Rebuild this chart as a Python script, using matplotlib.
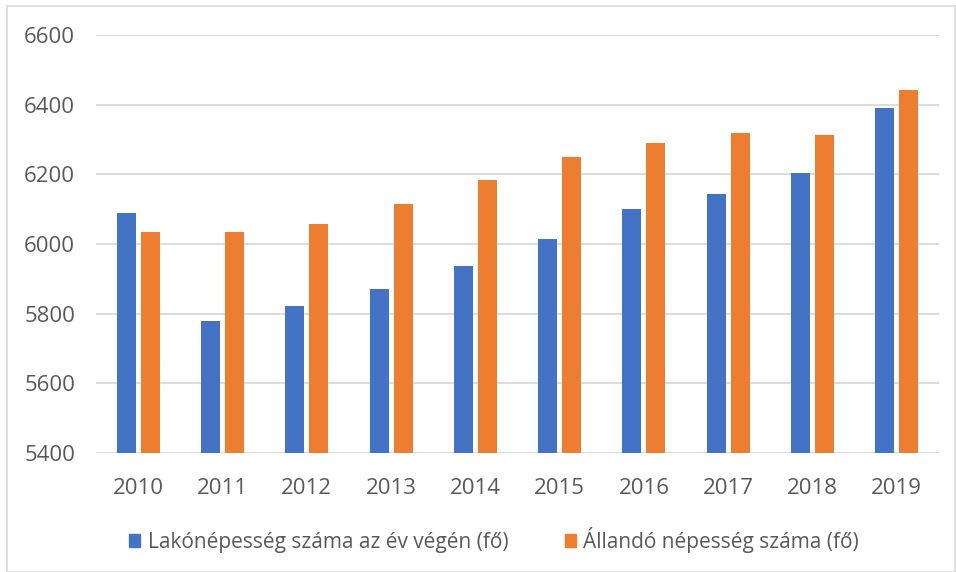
import matplotlib
matplotlib.use("Agg")
import matplotlib.pyplot as plt
import numpy as np
from matplotlib.patches import Rectangle, Patch

years = ["2010", "2011", "2012", "2013", "2014", "2015", "2016", "2017", "2018", "2019"]
lakonepesseg = [6089, 5778, 5821, 5871, 5937, 6015, 6100, 6144, 6204, 6390]
allando = [6034, 6034, 6057, 6116, 6183, 6249, 6291, 6318, 6312, 6443]
series_names = ["Lakónépesség száma az év végén (fő)", "Állandó népesség száma (fő)"]

BLUE = "#4472C4"
ORANGE = "#ED7D31"
TEXT = "#595959"
GRID = "#D9D9D9"

plt.rcParams['font.family'] = ['Open Sans', 'DejaVu Sans']

fig = plt.figure(figsize=(9.56, 5.72), dpi=100)
ax = fig.add_axes([96/956, 1-453/572, (939-96)/956, (453-35)/572])

x = np.arange(len(years))
w = 0.225
off = 0.142
ax.bar(x - off, [v - 5400 for v in lakonepesseg], w, bottom=5400, color=BLUE, zorder=3)
ax.bar(x + off, [v - 5400 for v in allando], w, bottom=5400, color=ORANGE, zorder=3)

ax.set_xlim(-0.5, len(years) - 0.5)
ax.set_ylim(5400, 6600)
ax.set_yticks(np.arange(5400, 6601, 200))
ax.set_xticks(x)
ax.set_xticklabels(years)
ax.tick_params(axis='both', length=0, labelsize=16, colors=TEXT)
ax.tick_params(axis='x', pad=18)
ax.tick_params(axis='y', pad=15)
ax.grid(axis='y', color=GRID, linewidth=1.3, zorder=0)
for s in ax.spines.values():
    s.set_visible(False)
ax.axhline(5400, color=GRID, linewidth=1.3, zorder=2)

handles = [Patch(color=BLUE), Patch(color=ORANGE)]
fig.legend(handles, series_names, loc='center', bbox_to_anchor=(494/956, 1-540/572),
           ncol=2, frameon=False, fontsize=15, labelcolor=TEXT,
           handlelength=0.55, handleheight=0.55, handletextpad=0.35, columnspacing=2.7)

fig.patches.append(Rectangle((7/956, 0), (955-7)/956, 1-6/572, transform=fig.transFigure,
                             fill=False, edgecolor=GRID, linewidth=1.2))

fig.savefig("out.png", dpi=100)
